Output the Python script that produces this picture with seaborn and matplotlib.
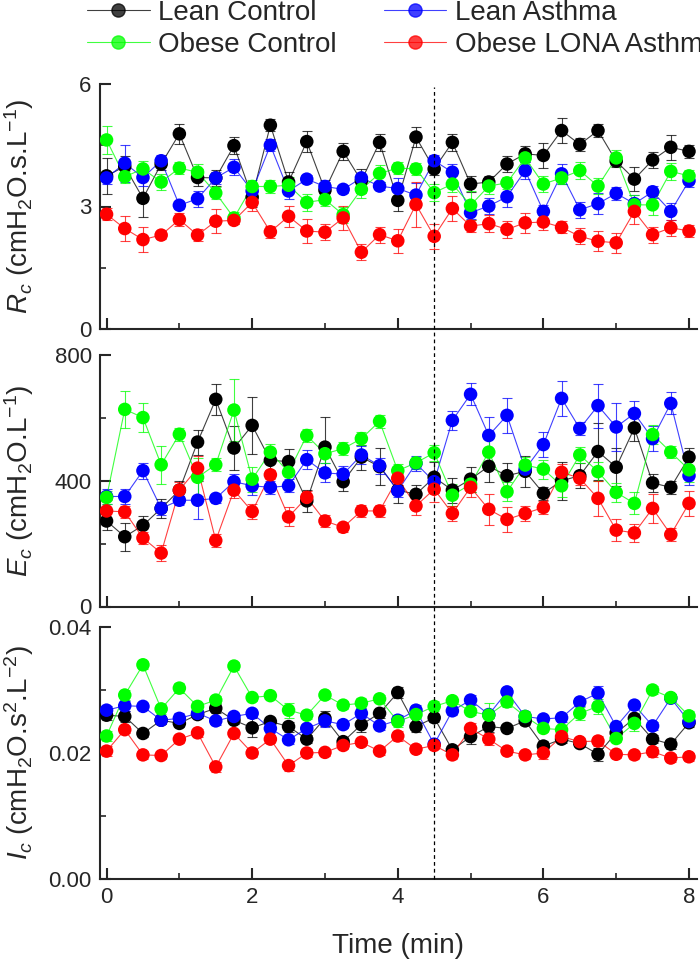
import numpy as np
import pandas as pd
import matplotlib
matplotlib.use('Agg')
import matplotlib.pyplot as plt
import matplotlib.transforms as mtransforms
from matplotlib.lines import Line2D
from matplotlib.ticker import MultipleLocator
import seaborn as sns

# time points (min)
time_min = [0, 0.25, 0.5, 0.75, 1, 1.25, 1.5, 1.75, 2, 2.25, 2.5, 2.75, 3, 3.25, 3.5, 3.75, 4,
            4.25, 4.5, 4.75, 5, 5.25, 5.5, 5.75, 6, 6.25, 6.5, 6.75, 7, 7.25, 7.5, 7.75, 8]

groups = ['Lean Control', 'Lean Asthma', 'Obese Control', 'Obese LONA Asthma']
colors = ['#000000', '#0000ff', '#00ff00', '#ff0000']

# Rc (cmH2O.s.L-1)
rc_lean_ctrl = [3.75, 3.98, 3.2, 4.04, 4.78, 3.71, 3.7, 4.49, 3.23, 4.99, 3.6, 4.59, 3.4, 4.35, 3.63, 4.57, 3.15,
                4.7, 3.92, 4.57, 3.55, 3.6, 4.04, 4.29, 4.25, 4.86, 4.52, 4.86, 4.11, 3.67, 4.14, 4.45, 4.35]
rc_lean_asth = [3.7, 4.06, 3.71, 4.12, 3.03, 3.19, 3.7, 3.96, 3.38, 4.5, 3.38, 3.67, 3.49, 3.42, 3.7, 3.5, 3.44,
                3.28, 4.12, 3.84, 2.85, 3.01, 3.24, 3.88, 2.88, 3.8, 2.92, 3.07, 3.32, 3.07, 3.36, 2.88, 3.63]
rc_obese_ctrl = [4.63, 3.73, 3.92, 3.6, 3.94, 3.84, 3.33, 2.72, 3.49, 3.49, 3.52, 3.1, 3.17, 2.8, 3.42, 3.81, 3.94,
                 3.92, 3.34, 3.55, 3.03, 3.5, 3.58, 4.19, 3.55, 3.7, 3.88, 3.5, 4.19, 3.04, 3.04, 3.86, 3.75]
rc_obese_asth = [2.81, 2.46, 2.19, 2.3, 2.68, 2.3, 2.64, 2.66, 3.1, 2.38, 2.76, 2.4, 2.37, 2.72, 1.88, 2.31, 2.16,
                 3.05, 2.27, 2.95, 2.52, 2.58, 2.44, 2.6, 2.62, 2.49, 2.27, 2.15, 2.11, 2.88, 2.31, 2.48, 2.4]
rc_lean_ctrl_err = [0.45, 0.25, 0.45, 0.15, 0.25, 0.2, 0.2, 0.2, 0.25, 0.15, 0.25, 0.25, 0.2, 0.2, 0.3, 0.2, 0.25,
                    0.25, 0.15, 0.2, 0.2, 0.15, 0.2, 0.2, 0.3, 0.3, 0.15, 0.15, 0.15, 0.3, 0.2, 0.3, 0.15]
rc_lean_asth_err = [0.15, 0.45, 0.2, 0.15, 0.1, 0.2, 0.15, 0.2, 0.2, 0.15, 0.2, 0.1, 0.15, 0.1, 0.1, 0.1, 0.25,
                    0.3, 0.15, 0.2, 0.15, 0.2, 0.25, 0.2, 0.15, 0.25, 0.2, 0.25, 0.15, 0.2, 0.15, 0.2, 0.15]
rc_obese_ctrl_err = [0.35, 0.15, 0.2, 0.2, 0.15, 0.2, 0.15, 0.15, 0.15, 0.15, 0.2, 0.2, 0.15, 0.2, 0.2, 0.2, 0.15,
                     0.15, 0.2, 0.2, 0.35, 0.2, 0.15, 0.15, 0.2, 0.15, 0.2, 0.2, 0.2, 0.25, 0.25, 0.2, 0.15]
rc_obese_asth_err = [0.15, 0.3, 0.3, 0.1, 0.15, 0.15, 0.3, 0.1, 0.2, 0.15, 0.25, 0.3, 0.2, 0.3, 0.2, 0.2, 0.3,
                     0.55, 0.3, 0.3, 0.15, 0.2, 0.2, 0.25, 0.2, 0.15, 0.2, 0.25, 0.25, 0.3, 0.2, 0.2, 0.15]

# Ec (cmH2O.L-1)
ec_lean_ctrl = [272, 222, 258, 312, 370, 523, 659, 504, 576, 465, 461, 336, 507, 397, 475, 445, 370,
                357, 411, 370, 405, 446, 416, 430, 360, 400, 416, 493, 443, 568, 393, 379, 475]
ec_lean_asth = [350, 350, 432, 312, 338, 338, 344, 397, 384, 379, 384, 467, 425, 421, 482, 448, 368,
                455, 397, 592, 675, 544, 608, 437, 515, 662, 566, 639, 571, 614, 534, 646, 416]
ec_obese_ctrl = [347, 627, 601, 451, 548, 411, 451, 625, 405, 491, 427, 544, 486, 502, 534, 589, 432,
                 457, 489, 354, 389, 491, 365, 450, 437, 384, 482, 429, 363, 328, 547, 491, 435]
ec_obese_asth = [304, 301, 218, 170, 370, 440, 210, 370, 302, 419, 285, 347, 272, 252, 304, 304, 408,
                 320, 373, 296, 379, 309, 277, 296, 315, 427, 408, 344, 243, 234, 312, 229, 328]
ec_lean_ctrl_err = [30, 45, 30, 30, 30, 40, 50, 70, 90, 40, 40, 35, 95, 30, 40, 60, 40,
                    30, 50, 40, 40, 50, 40, 50, 20, 60, 40, 90, 60, 40, 30, 20, 30]
ec_lean_asth_err = [25, 25, 25, 20, 15, 60, 15, 25, 30, 20, 20, 30, 30, 25, 30, 25, 20,
                    25, 20, 30, 35, 60, 55, 20, 40, 55, 20, 70, 75, 40, 40, 35, 30]
ec_obese_ctrl_err = [20, 60, 45, 60, 20, 60, 20, 100, 40, 25, 35, 20, 30, 20, 20, 20, 20,
                     20, 25, 35, 25, 45, 30, 25, 30, 35, 25, 30, 30, 35, 30, 20, 40]
ec_obese_asth_err = [35, 20, 20, 25, 25, 40, 20, 25, 25, 15, 30, 20, 20, 15, 20, 20, 20,
                     30, 40, 25, 30, 50, 40, 25, 20, 25, 20, 55, 35, 30, 45, 20, 40]

# Ic (cmH2O.s2.L-2)
ic_lean_ctrl = [0.0260, 0.0258, 0.0231, 0.0252, 0.0247, 0.0261, 0.0271, 0.0252, 0.0240, 0.0250, 0.0242, 0.0222,
                0.0255, 0.0218, 0.0245, 0.0263, 0.0296, 0.0242, 0.0256, 0.0205, 0.0226, 0.0242, 0.0239, 0.0251,
                0.0211, 0.0222, 0.0215, 0.0198, 0.0232, 0.0255, 0.0222, 0.0214, 0.0248]
ic_lean_asth = [0.0268, 0.0275, 0.0274, 0.0252, 0.0255, 0.0263, 0.0251, 0.0258, 0.0263, 0.0239, 0.0221, 0.0239,
                0.0251, 0.0245, 0.0263, 0.0243, 0.0252, 0.0268, 0.0214, 0.0267, 0.0284, 0.0261, 0.0297, 0.0258,
                0.0254, 0.0256, 0.0281, 0.0295, 0.0242, 0.0276, 0.0243, 0.0287, 0.0250]
ic_obese_ctrl = [0.0227, 0.0292, 0.0340, 0.0270, 0.0303, 0.0274, 0.0284, 0.0338, 0.0288, 0.0291, 0.0268, 0.0260,
                 0.0292, 0.0276, 0.0279, 0.0286, 0.0250, 0.0261, 0.0274, 0.0283, 0.0266, 0.0260, 0.0281, 0.0258,
                 0.0239, 0.0237, 0.0263, 0.0274, 0.0223, 0.0247, 0.0300, 0.0288, 0.0259]
ic_obese_asth = [0.0203, 0.0237, 0.0197, 0.0196, 0.0222, 0.0232, 0.0178, 0.0231, 0.0200, 0.0222, 0.0180, 0.0200,
                 0.0201, 0.0212, 0.0217, 0.0203, 0.0227, 0.0206, 0.0212, 0.0197, 0.0239, 0.0222, 0.0203, 0.0197,
                 0.0200, 0.0226, 0.0218, 0.0219, 0.0198, 0.0197, 0.0202, 0.0192, 0.0194]
ic_lean_ctrl_err = [0.0008, 0.0008, 0.0006, 0.0006, 0.0006, 0.0006, 0.0008, 0.0006, 0.0015, 0.0006, 0.0008, 0.0006,
                    0.0012, 0.0006, 0.0012, 0.0008, 0.0008, 0.0008, 0.0006, 0.0006, 0.0012, 0.0008, 0.0006, 0.0006,
                    0.0008, 0.0006, 0.0006, 0.0010, 0.0008, 0.0006, 0.0006, 0.0008, 0.0006]
ic_lean_asth_err = [0.0006, 0.0008, 0.0006, 0.0006, 0.0008, 0.0006, 0.0006, 0.0006, 0.0006, 0.0008, 0.0006, 0.0006,
                    0.0010, 0.0006, 0.0008, 0.0006, 0.0008, 0.0008, 0.0006, 0.0006, 0.0008, 0.0006, 0.0006, 0.0006,
                    0.0006, 0.0006, 0.0006, 0.0012, 0.0006, 0.0006, 0.0006, 0.0006, 0.0006]
ic_obese_ctrl_err = [0.0008, 0.0008, 0.0006, 0.0008, 0.0008, 0.0006, 0.0006, 0.0006, 0.0006, 0.0006, 0.0012, 0.0006,
                     0.0006, 0.0006, 0.0008, 0.0006, 0.0008, 0.0006, 0.0008, 0.0006, 0.0006, 0.0020, 0.0008, 0.0008,
                     0.0006, 0.0008, 0.0010, 0.0012, 0.0006, 0.0012, 0.0006, 0.0006, 0.0008]
ic_obese_asth_err = [0.0008, 0.0006, 0.0006, 0.0006, 0.0006, 0.0006, 0.0008, 0.0006, 0.0006, 0.0006, 0.0008, 0.0006,
                     0.0006, 0.0006, 0.0006, 0.0006, 0.0008, 0.0006, 0.0006, 0.0006, 0.0008, 0.0010, 0.0006, 0.0006,
                     0.0010, 0.0006, 0.0006, 0.0008, 0.0006, 0.0006, 0.0008, 0.0006, 0.0006]


def long_frame(vals, errs):
    rows = []
    for g, v, e in zip(groups, vals, errs):
        for t, y, s in zip(time_min, v, e):
            rows.append({'time': t, 'value': y, 'err': s, 'group': g})
    return pd.DataFrame(rows)


panels = [
    (long_frame([rc_lean_ctrl, rc_lean_asth, rc_obese_ctrl, rc_obese_asth],
                [rc_lean_ctrl_err, rc_lean_asth_err, rc_obese_ctrl_err, rc_obese_asth_err]),
     r'$\mathit{R}_c$ (cmH$_2$O.s.L$^{-1}$)', (0, 6), 3, 1.5, ['0', '3', '6']),
    (long_frame([ec_lean_ctrl, ec_lean_asth, ec_obese_ctrl, ec_obese_asth],
                [ec_lean_ctrl_err, ec_lean_asth_err, ec_obese_ctrl_err, ec_obese_asth_err]),
     r'$\mathit{E}_c$ (cmH$_2$O.L$^{-1}$)', (0, 800), 400, 200, ['0', '400', '800']),
    (long_frame([ic_lean_ctrl, ic_lean_asth, ic_obese_ctrl, ic_obese_asth],
                [ic_lean_ctrl_err, ic_lean_asth_err, ic_obese_ctrl_err, ic_obese_asth_err]),
     r'$\mathit{I}_c$ (cmH$_2$O.s$^2$.L$^{-2}$)', (0, 0.04), 0.02, 0.01, ['0.00', '0.02', '0.04']),
]

sns.set_style('ticks')
plt.rcParams['font.family'] = ['Liberation Sans', 'DejaVu Sans']
plt.rcParams['mathtext.fontset'] = 'custom'
plt.rcParams['mathtext.rm'] = 'Liberation Sans'
plt.rcParams['mathtext.it'] = 'Liberation Sans:italic'

fig = plt.figure(figsize=(7, 9.61), dpi=100)
W, H = 700, 961
boxes = [(84, 329), (355, 606.5), (627, 879)]
x_left, x_right = 100, 697
palette = dict(zip(groups, colors))

axes = []
for (df, ylab, ylim, major, minor, ticklabels), (top, bot) in zip(panels, boxes):
    ax = fig.add_axes([x_left / W, 1 - bot / H, (x_right - x_left) / W, (bot - top) / H])
    for g in groups:
        d = df[df['group'] == g]
        ax.errorbar(d['time'], d['value'], yerr=d['err'], fmt='none', ecolor=palette[g],
                    elinewidth=0.8, capsize=3.5, capthick=0.8, alpha=0.75, zorder=1)
    sns.lineplot(data=df, x='time', y='value', hue='group', hue_order=groups, palette=palette,
                 estimator=None, lw=0.8, alpha=0.75, legend=False, ax=ax, zorder=2)
    sns.scatterplot(data=df, x='time', y='value', hue='group', hue_order=groups, palette=palette,
                    s=95, edgecolor='none', legend=False, ax=ax, zorder=3)
    ax.set_xlim(-0.09, 8.11)
    ax.set_ylim(*ylim)
    ax.set_yticks([ylim[0], ylim[0] + major, ylim[1]])
    ax.set_yticklabels(ticklabels)
    ax.yaxis.set_minor_locator(MultipleLocator(minor))
    ax.xaxis.set_major_locator(MultipleLocator(2))
    ax.xaxis.set_minor_locator(MultipleLocator(1))
    ax.tick_params(which='major', direction='in', length=8, width=1.5, labelsize=16, pad=6)
    ax.tick_params(which='minor', direction='in', length=4, width=1.2)
    for s in ['top', 'right']:
        ax.spines[s].set_visible(False)
    for s in ['left', 'bottom']:
        ax.spines[s].set_linewidth(1.5)
    ax.set_ylabel(ylab, fontsize=20)
    ax.yaxis.set_label_coords(-0.107, 0.5)
    ax.set_xlabel('')
    axes.append(ax)

for ax in axes[:2]:
    ax.tick_params(labelbottom=False)
axes[2].set_xlabel('Time (min)', fontsize=20, labelpad=18)

# dashed marker at 4.5 min across all panels
trans = mtransforms.blended_transform_factory(axes[2].transData, fig.transFigure)
fig.add_artist(Line2D([4.5, 4.5], [1 - 879 / H, 1 - 87 / H], transform=trans,
                      color='black', lw=0.9, ls=(0, (3, 2.5))))

handles = [Line2D([], [], color=c, lw=0.8, alpha=0.75, marker='o', ms=9.5,
                  markerfacecolor=c, markeredgecolor=c) for c in colors]
order = [0, 2, 1, 3]
fig.legend([handles[i] for i in order], [groups[i] for i in order], ncol=2, loc='upper left',
           bbox_to_anchor=(87 / W, 1.0), frameon=False, fontsize=20, borderpad=0, borderaxespad=0,
           handlelength=2.25, handletextpad=0.3, columnspacing=1.7, labelspacing=0.2)

fig.savefig('out.png', dpi=100)
